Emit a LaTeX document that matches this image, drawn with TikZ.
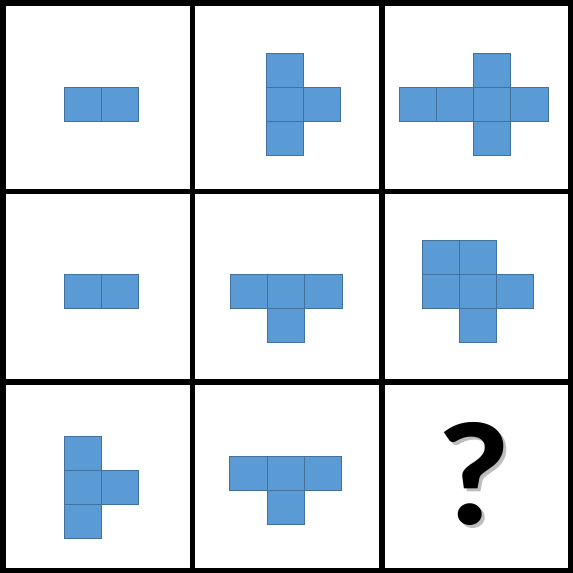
\documentclass[tikz,border=0pt]{standalone}
\usepackage{fontspec}
\newfontfamily\qfont{Carlito}
\definecolor{sqfill}{HTML}{5B9BD5}
\definecolor{sqline}{HTML}{41719C}
\definecolor{shadowgray}{HTML}{BDBDBD}
\tikzset{
  sq/.style={fill=sqfill, draw=sqline, line width=0.9pt},
  gridline/.style={line width=5.5pt, black, line cap=rect},
  qmark/.style={inner sep=0pt, xscale=1.09}
}
\newcommand{\blk}[3]{%
  \begin{scope}[shift={(#1,#2)}]
    \foreach \i/\j in {#3} {
      \draw[sq] (\i*37.2,\j*34) rectangle ++(37.2,34);
    }
  \end{scope}}
\begin{document}
\begin{tikzpicture}[x=1pt,y=-1pt]
\useasboundingbox (0,0) rectangle (573,573);
\fill[white] (0,0) rectangle (573,573);
% shapes
\blk{64.3}{87.3}{0/0,1/0}
\blk{266.5}{53.3}{0/0,0/1,0/2,1/1}
\blk{399.3}{53.3}{2/0,0/1,1/1,2/1,3/1,2/2}
\blk{64.3}{274.3}{0/0,1/0}
\blk{230.5}{274.3}{0/0,1/0,2/0,1/1}
\blk{422.3}{240.3}{0/0,1/0,0/1,1/1,2/1,1/2}
\blk{64.3}{436.3}{0/0,0/1,0/2,1/1}
\blk{229.8}{456.3}{0/0,1/0,2/0,1/1}
% question mark
\node[qmark, text=shadowgray] (qs) at (476.8,476.8) {\resizebox{!}{102pt}{\qfont\bfseries ?}};
\node[qmark, text=black] (q) at (474,474) {\resizebox{!}{102pt}{\qfont\bfseries ?}};
% grid
\foreach \x in {3,192.5,382,571} \draw[gridline] (\x,0) -- (\x,573);
\foreach \y in {3,191.5,382,570.5} \draw[gridline] (0,\y) -- (573,\y);
\end{tikzpicture}
\end{document}
